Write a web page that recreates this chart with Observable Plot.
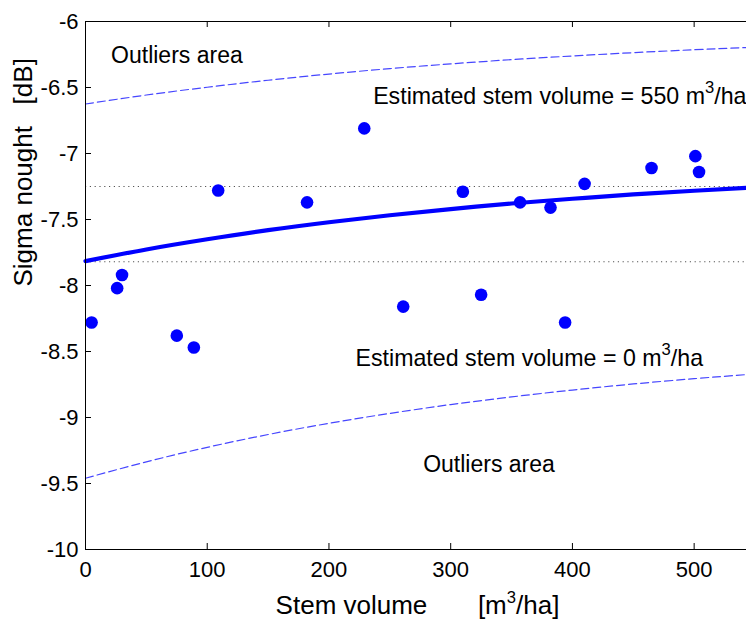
<!DOCTYPE html>
<html>
<head>
<meta charset="utf-8">
<script src="https://cdn.jsdelivr.net/npm/d3@7"></script>
<script src="https://cdn.jsdelivr.net/npm/@observablehq/plot@0.6"></script>
<style>
  html, body { margin: 0; padding: 0; background: #fff; }
  #chart svg { display: block; }
</style>
</head>
<body>
<div id="chart"></div>
<script>
// Measured stands: stem volume [m3/ha] vs backscatter [dB]
const stemVolume = [5, 26, 30, 75, 89, 109, 182, 229, 261, 310, 325, 357, 382, 394, 410, 465, 501, 504];
const sigmaNought = [-8.28, -8.02, -7.92, -8.38, -8.47, -7.28, -7.37, -6.81, -8.16, -7.29, -8.07, -7.37, -7.41, -8.28, -7.23, -7.11, -7.02, -7.14];

// Model curve and outlier bounds, sampled along stem volume
const curveVolume = [0, 50, 100, 150, 200, 250, 300, 350, 400, 450, 500, 543];
const modelCurve  = [-7.815, -7.727, -7.650, -7.581, -7.521, -7.468, -7.421, -7.379, -7.343, -7.310, -7.282, -7.26];
const upperBound  = [-6.625, -6.557, -6.498, -6.445, -6.398, -6.357, -6.321, -6.289, -6.261, -6.236, -6.214, -6.197];
const lowerBound  = [-9.46, -9.336, -9.226, -9.129, -9.044, -8.969, -8.902, -8.844, -8.792, -8.746, -8.706, -8.675];

// Backscatter levels at the ends of the estimation range (0 and 550 m3/ha)
const levels = [-7.25, -7.82];

const xTicks = [0, 100, 200, 300, 400, 500];
const yTicks = [-6, -6.5, -7, -7.5, -8, -8.5, -9, -9.5, -10];

const points = stemVolume.map((v, i) => ({v, s: sigmaNought[i]}));
const model = curveVolume.map((v, i) => ({v, mid: modelCurve[i], hi: upperBound[i], lo: lowerBound[i]}));

const width = 746, height = 620;
const margin = {top: 21, right: 0, bottom: 71, left: 85};
const frameW = width - margin.left - margin.right;
const frameH = height - margin.top - margin.bottom;
const tickLen = 6;
const font = "Liberation Sans, Arial, Helvetica, sans-serif";
const blue = "#0000ff";
const dashBlue = "#4646ff";

const plot = Plot.plot({
  width, height,
  marginTop: margin.top, marginRight: margin.right,
  marginBottom: margin.bottom, marginLeft: margin.left,
  style: {fontFamily: font, fontSize: "22px", color: "#000", background: "#fff", overflow: "hidden"},
  x: {domain: [0, 543]},
  y: {domain: [-10, -6]},
  marks: [
    // dotted reference levels
    Plot.ruleY(levels, {y: d => d, stroke: "#555", strokeWidth: 1.2, strokeDasharray: "1.2,3.6"}),
    // outlier bounds
    Plot.line(model, {x: "v", y: "hi", stroke: dashBlue, strokeWidth: 1.2, strokeDasharray: "8,4", curve: "natural"}),
    Plot.line(model, {x: "v", y: "lo", stroke: dashBlue, strokeWidth: 1.2, strokeDasharray: "8,4", curve: "natural"}),
    // model curve
    Plot.line(model, {x: "v", y: "mid", stroke: blue, strokeWidth: 4.2, curve: "natural"}),
    // observations
    Plot.dot(points, {x: "v", y: "s", r: 6.3, fill: blue, stroke: null}),
    // annotations
    Plot.text(["Outliers area"], {x: 21, y: -6.256, text: d => d, textAnchor: "start", lineAnchor: "middle", fontSize: 23, fill: "#000"}),
    Plot.text(["Estimated stem volume = 550 m³/ha"], {x: 236.3, y: -6.572, text: d => d, textAnchor: "start", lineAnchor: "middle", fontSize: 23.2, fill: "#000"}),
    Plot.text(["Estimated stem volume = 0 m³/ha"], {x: 221.8, y: -8.551, text: d => d, textAnchor: "start", lineAnchor: "middle", fontSize: 23.2, fill: "#000"}),
    Plot.text(["Outliers area"], {x: 277.4, y: -9.357, text: d => d, textAnchor: "start", lineAnchor: "middle", fontSize: 23, fill: "#000"}),
    // frame: left, bottom, top
    Plot.ruleX([0], {stroke: "#000", strokeWidth: 1}),
    Plot.ruleY([-10], {stroke: "#000", strokeWidth: 1}),
    Plot.ruleY([-6], {stroke: "#000", strokeWidth: 1}),
    // inward ticks
    Plot.tickX(xTicks, {x: d => d, insetTop: frameH - tickLen, stroke: "#000"}),
    Plot.tickX(xTicks, {x: d => d, insetBottom: frameH - tickLen, stroke: "#000"}),
    Plot.tickY(yTicks, {y: d => d, insetRight: frameW - tickLen, stroke: "#000"}),
    // tick labels
    Plot.axisX(xTicks, {tickSize: 0, tickPadding: 12, tickFormat: d => String(d), fontSize: 22, label: null, fill: "#000"}),
    Plot.axisY(yTicks, {tickSize: 0, tickPadding: 7, tickFormat: d => String(d), fontSize: 22, label: null, fill: "#000"}),
    // axis titles
    Plot.text(["Stem volume\u00a0\u00a0\u00a0\u00a0\u00a0\u00a0\u00a0[m³/ha]"], {frameAnchor: "bottom", text: d => d, dy: 55.7, dx: 1.5, lineAnchor: "middle", fontSize: 26, fill: "#000"}),
    Plot.text(["Sigma nought\u00a0\u00a0\u00a0[dB]"], {frameAnchor: "left", text: d => d, dx: -61.5, dy: 1, rotate: -90, lineAnchor: "middle", fontSize: 26, fill: "#000"})
  ]
});

// Raise the "3" of m³ as a true superscript
const ns = "http://www.w3.org/2000/svg";
plot.querySelectorAll("text").forEach(t => {
  if (t.querySelector("tspan")) return;
  const content = t.textContent;
  if (!content.includes("³")) return;
  const [before, after] = content.split("³");
  const size = parseFloat(t.getAttribute("font-size") || getComputedStyle(t).fontSize) || 23;
  const shift = size * 0.48;
  t.textContent = "";
  const a = document.createElementNS(ns, "tspan");
  a.textContent = before;
  const s = document.createElementNS(ns, "tspan");
  s.textContent = "3";
  s.setAttribute("font-size", (size * 0.72).toFixed(1));
  s.setAttribute("dy", (-shift).toFixed(1));
  const b = document.createElementNS(ns, "tspan");
  b.textContent = after;
  b.setAttribute("dy", shift.toFixed(1));
  t.append(a, s, b);
});

document.getElementById("chart").append(plot);
</script>
</body>
</html>
